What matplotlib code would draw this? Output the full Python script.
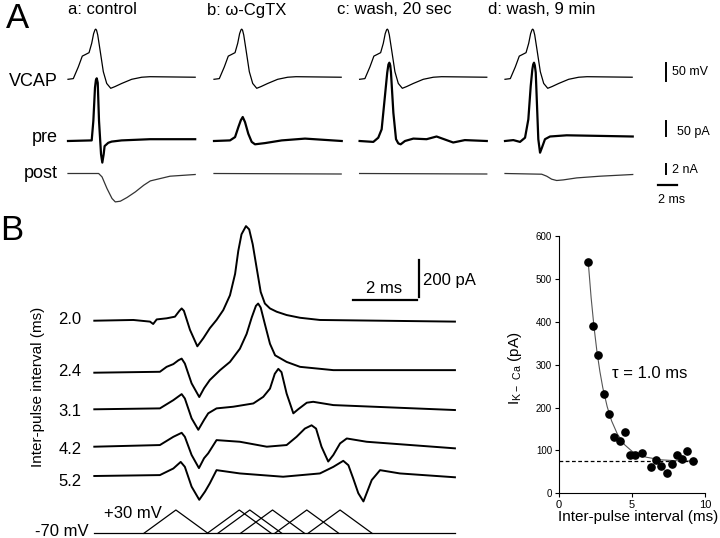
#!/usr/bin/env python3
"""VCAP-evoked Ca-activated K currents and their paired-pulse decay."""

from __future__ import annotations

import matplotlib

matplotlib.use("Agg")
import matplotlib.pyplot as plt
from matplotlib.transforms import Affine2D

plt.rcParams["font.family"] = ["Liberation Sans", "DejaVu Sans"]

# ---------------- panel A data (time in ms) ----------------
conditions = ["a: control", "b: \u03c9-CgTX", "c: wash, 20 sec", "d: wash, 9 min"]
row_names = ["VCAP", "pre", "post"]

vcap_t = [0, 0.58, 1.13, 1.56, 1.86, 2.3, 2.59, 2.8, 2.95, 3.03, 3.12, 3.25,
          3.5, 3.86, 4.23, 4.67, 5.14, 5.87, 6.96, 8.06, 8.96, 13.9]
vcap_mv = [0, 2, 36, 67, 71, 77, 104, 132, 143, 145, 142, 128,
           85, 22, -12, -26, -21, -12, 0, 6, 7.5, 6]

pre_a_t = [0, 2.59, 2.77, 2.95, 3.05, 3.14, 3.25, 3.39, 3.61, 3.75, 3.9, 4.0,
           4.4, 4.77, 5.86, 8.96, 13.9]
pre_a_pa = [0, 2, 67, 178, 203, 209, 194, 67, -44, -72, -44, -17,
            -6, -2, 2, 6, 6]
pre_b_t = [0, 1.75, 2.3, 2.67, 2.93, 3.14, 3.39, 3.75, 4.12, 4.48, 5.57, 7.4,
           9.95, 13.96]
pre_b_pa = [0, 2, 13, 47, 69, 80, 63, 24, -3, -11, -7, 2, 8, 0]
pre_c_t = [0, 1.5, 2.04, 2.41, 2.77, 3.02, 3.15, 3.25, 3.35, 3.43, 3.69, 3.98,
           4.23, 4.49, 4.96, 5.87, 7.32, 8.41, 10.23, 11.5, 13.9]
pre_c_pa = [0, -3, 11, 39, 150, 228, 255, 261, 252, 228, 94, 6,
            -8, -11, 0, 8, 6, 15, -5, 3, 0]
pre_d_t = [0, 0.91, 1.64, 2.19, 2.55, 2.81, 2.99, 3.08, 3.17, 3.26, 3.36, 3.5,
           3.64, 3.83, 4.04, 4.37, 4.92, 6.74, 10.38, 13.96]
pre_d_pa = [0, 3, -3, 11, 72, 183, 239, 255, 261, 252, 228, 117,
            6, -39, -22, 6, 15, 19, 17, 15]

post_a_t = [0, 3.35, 3.72, 4.26, 4.81, 5.17, 5.72, 6.45, 7.36, 8.28, 9.0,
            11.15, 13.9]
post_a_na = [0, 0, -0.68, -3, -5, -5.68, -5.54, -4.8, -3.68, -2.34, -1.48,
             -0.54, -0.2]
post_b_t = [0, 13.9]
post_b_na = [0, -0.1]
post_c_t = [0, 13.9]
post_c_na = [0, -0.1]
post_d_t = [0, 4.01, 4.56, 5.1, 5.65, 6.37, 7.84, 10.38, 13.96]
post_d_na = [0, -0.14, -0.54, -1.14, -1.4, -1.28, -0.88, -0.54, -0.2]

# ---------------- panel B data ----------------
interval_labels = ["2.0", "2.4", "3.1", "4.2", "5.2"]

ik_20_t = [0, 1.22, 1.74, 1.84, 1.95, 2.26, 2.52, 2.66, 2.73, 2.8, 2.99, 3.22,
           3.41, 3.61, 3.82, 4.03, 4.24, 4.4, 4.5, 4.6, 4.74, 4.84, 4.95,
           5.07, 5.2, 5.33, 5.49, 5.7, 6.01, 6.43, 7.05, 11.27]
ik_20_pa = [0, 4, -5, -18, 7, 13, 22, 54, 67, 54, -50, -140,
            -95, -41, 4, 58, 139, 256, 382, 472, 517, 499, 418,
            292, 157, 94, 67, 49, 31, 16, 4, -5]
ik_24_t = [0, 2.05, 2.26, 2.47, 2.63, 2.73, 2.83, 3.04, 3.28, 3.43, 3.61,
           3.93, 4.24, 4.55, 4.76, 4.92, 5.05, 5.12, 5.2, 5.33, 5.49, 5.65,
           6.01, 6.43, 7.47, 11.27]
ik_24_pa = [0, 5, 32, 47, 68, 77, 50, -58, -133, -85, -40,
            14, 59, 131, 212, 302, 365, 378, 356, 266, 158, 95,
            59, 32, 14, 14]
ik_31_t = [0, 2.05, 2.47, 2.73, 2.83, 3.04, 3.25, 3.43, 3.56, 3.82, 4.34,
           4.97, 5.28, 5.49, 5.64, 5.75, 5.85, 6.01, 6.22, 6.37, 6.64, 6.84,
           7.47, 11.27]
ik_31_pa = [0, 5, 50, 83, 59, -49, -112, -58, -22, 5, 14,
            32, 68, 113, 194, 221, 203, 86, -22, 0, 36, 41,
            23, -4]
ik_42_t = [0, 2.05, 2.47, 2.73, 2.83, 3.04, 3.27, 3.43, 3.56, 3.82, 4.55,
           5.39, 6.01, 6.32, 6.58, 6.79, 6.93, 7.1, 7.31, 7.47, 7.68, 7.89,
           8.51, 11.27]
ik_42_pa = [0, 9, 54, 76, 54, -45, -117, -63, -36, 36, 27,
            0, 9, 54, 99, 117, 99, 0, -81, -45, 18, 45,
            27, -9]
ik_52_t = [0, 2.05, 2.47, 2.7, 2.83, 3.04, 3.28, 3.46, 3.61, 3.82, 4.55,
           5.9, 7.05, 7.47, 7.78, 7.94, 8.09, 8.25, 8.41, 8.51, 8.67, 8.93,
           9.55, 11.27]
ik_52_pa = [0, 5, 41, 77, 50, -58, -130, -85, -40, 32, 14,
            -4, 14, 50, 83, 59, -13, -94, -139, -94, -22, 32,
            14, -7]

hold_mv = -70
step_mv = 30
pulse_one_peak = 2.55
pulse_two_peaks = [4.53, 4.86, 5.57, 6.64, 7.68]
ramp_ms = 1.0
sweep_ms = 11.27

# ---------------- fit panel data ----------------
interval_ms = [2.01, 2.35, 2.69, 3.08, 3.42, 3.79, 4.18, 4.5, 4.84, 5.21,
               5.66, 6.3, 6.64, 6.99, 7.37, 7.74, 8.06, 8.42, 8.77, 9.16]
ik_ca_pa = [540, 389, 322, 232, 184, 132, 122, 142, 90, 90, 95, 62, 78, 64,
            48, 68, 89, 79, 99, 76]
fit_x = [2.0, 2.2, 2.4, 2.6, 2.8, 3.0, 3.3, 3.6, 4.0, 4.5, 5.0, 5.5, 6.0,
         7.0, 8.0, 9.2]
fit_y = [540, 456, 387, 330, 284, 246, 202, 169, 138, 113, 98, 89, 84, 78,
         76, 75]
plateau_pa = 75
plateau_end_ms = 9.45


def place(ax, x0: float, y0: float, sx: float, sy: float):
    """Map (ms, signal) onto the pixel canvas, signal pointing up."""
    return Affine2D().scale(sx, -sy).translate(x0, y0) + ax.transData


def draw_panel_a(ax) -> None:
    ms_px = 9.15
    gains = {"VCAP": 0.346, "pre": 0.30, "post": 5.0}
    rows_y = {"VCAP": 79.3, "pre": 141.0, "post": 173.5}
    cols_x = [68, 214, 359.6, 505]
    title_x = [68, 206.7, 336.7, 488]
    pre = [(pre_a_t, pre_a_pa), (pre_b_t, pre_b_pa), (pre_c_t, pre_c_pa),
           (pre_d_t, pre_d_pa)]
    post = [(post_a_t, post_a_na), (post_b_t, post_b_na),
            (post_c_t, post_c_na), (post_d_t, post_d_na)]

    ax.text(6, 19, "A", fontsize=25, va="center", ha="left")
    for name, y in zip(row_names, [81.7, 138, 173.3]):
        ax.text(58, y, name, fontsize=13, ha="right", va="center")

    for i, x0 in enumerate(cols_x):
        ax.text(title_x[i], 10, conditions[i], fontsize=12, va="center")
        ax.plot(vcap_t, vcap_mv, color="black", lw=0.9,
                transform=place(ax, x0, rows_y["VCAP"], ms_px, gains["VCAP"]))
        ax.plot(*pre[i], color="black", lw=1.6,
                transform=place(ax, x0, rows_y["pre"], ms_px, gains["pre"]))
        ax.plot(*post[i], color="#333333", lw=0.9,
                transform=place(ax, x0, rows_y["post"], ms_px, gains["post"]))

    # scale bars
    bar_x = 665.7
    ax.plot([0, 0], [0, 50], color="black", lw=1.4,
            transform=place(ax, bar_x, 80.7, 1, gains["VCAP"]))
    ax.plot([0, 0], [0, 50], color="black", lw=1.4,
            transform=place(ax, bar_x, 136.0, 1, gains["pre"]))
    ax.plot([0, 0], [0, 2], color="black", lw=1.4,
            transform=place(ax, bar_x, 174.0, 1, gains["post"]))
    ax.plot([0, 2], [0, 0], color="black", lw=1.6,
            transform=place(ax, 658.3, 185.0, ms_px, 1))
    ax.text(671.7, 71.7, "50 mV", fontsize=9, va="center")
    ax.text(676.7, 131.7, "50 pA", fontsize=9, va="center")
    ax.text(671.7, 170.0, "2 nA", fontsize=9, va="center")
    ax.text(658.3, 200.0, "2 ms", fontsize=9, va="center")


def draw_panel_b(ax) -> None:
    ms_px = 32.0
    pa_px = 0.183
    x0 = 94.3
    rows_y = [320.7, 372.7, 409.3, 446.7, 476.0]
    label_y = [320.0, 371.7, 411.7, 450.0, 481.7]
    traces = [(ik_20_t, ik_20_pa), (ik_24_t, ik_24_pa), (ik_31_t, ik_31_pa),
              (ik_42_t, ik_42_pa), (ik_52_t, ik_52_pa)]

    ax.text(0, 230.5, "B", fontsize=25, va="center", ha="left")
    for (t, pa), y, ly, label in zip(traces, rows_y, label_y, interval_labels):
        ax.plot(t, pa, color="black", lw=1.4, solid_joinstyle="round",
                transform=place(ax, x0, y, ms_px, pa_px))
        ax.text(81.7, ly, label, fontsize=12, ha="right", va="center")
    ax.text(38.3, 386.7, "Inter-pulse interval (ms)", fontsize=11,
            rotation=90, ha="center", va="center")

    # command protocol
    mv_px = 0.233
    proto = Affine2D().translate(0, -hold_mv) + Affine2D().scale(ms_px, -mv_px) \
        + Affine2D().translate(x0, 533.3) + ax.transData
    ax.plot([0, sweep_ms], [hold_mv, hold_mv], color="black", lw=0.9,
            transform=proto)
    for peak in [pulse_one_peak] + pulse_two_peaks:
        ax.plot([peak - ramp_ms, peak, peak + ramp_ms],
                [hold_mv, step_mv, hold_mv], color="black", lw=0.9,
                transform=proto)
    ax.text(162, 513.3, "+30 mV", fontsize=12, ha="right", va="center")
    ax.text(88.3, 531.7, "-70 mV", fontsize=12, ha="right", va="center")

    # scale bars
    ax.plot([0, 2], [0, 0], color="black", lw=1.6,
            transform=place(ax, 353.3, 300.0, ms_px, 1))
    ax.plot([0, 0], [0, 200], color="black", lw=1.6,
            transform=place(ax, 419.3, 296.7, 1, pa_px))
    ax.text(384.0, 288.3, "2 ms", fontsize=12, ha="center", va="center")
    ax.text(423.3, 280.0, "200 pA", fontsize=12, va="center")


def draw_fit(fig) -> None:
    ax = fig.add_axes([0.7764, 0.0831, 0.2028, 0.4782])
    ax.plot(fit_x, fit_y, color="#555555", lw=0.8)
    ax.plot([0, plateau_end_ms], [plateau_pa, plateau_pa], color="black",
            lw=0.9, ls=(0, (3, 2)))
    ax.plot(interval_ms, ik_ca_pa, "o", color="black", ms=5.2)
    ax.set_xlim(0, 10)
    ax.set_ylim(0, 600)
    ax.set_xticks([0, 5, 10])
    ax.set_yticks(range(0, 601, 100))
    for side in ("top", "right"):
        ax.spines[side].set_visible(False)
    for side in ("left", "bottom"):
        ax.spines[side].set_linewidth(0.8)
    ax.tick_params(direction="out", length=3, width=0.8, pad=2)
    ax.tick_params(axis="y", labelsize=7)
    ax.tick_params(axis="x", labelsize=8)
    ax.set_xlabel("Inter-pulse interval (ms)", fontsize=11)
    ax.xaxis.set_label_coords(0.545, -0.065)
    ax.set_ylabel(r"$\mathregular{I_{K-\ Ca}}$ (pA)", fontsize=11)
    ax.yaxis.set_label_coords(-0.24, 0.487)
    ax.text(3.6, 280, "\u03c4 = 1.0 ms", fontsize=12, va="center")
    ax.patch.set_alpha(0)


def main() -> int:
    fig = plt.figure(figsize=(7.2, 5.38), dpi=100)
    canvas = fig.add_axes([0, 0, 1, 1])
    draw_panel_a(canvas)
    draw_panel_b(canvas)
    canvas.set_xlim(0, 720)
    canvas.set_ylim(538, 0)
    canvas.axis("off")
    draw_fit(fig)
    fig.savefig("out.png", dpi=100)
    plt.close(fig)
    return 0


if __name__ == "__main__":
    raise SystemExit(main())
